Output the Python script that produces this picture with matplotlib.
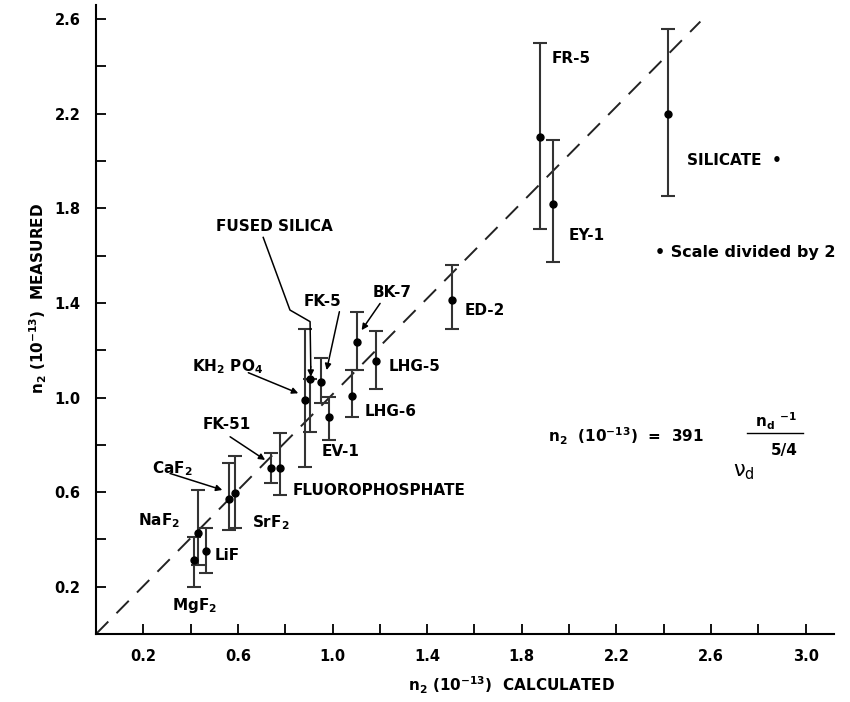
import numpy as np
import matplotlib.pyplot as plt

plt.rcParams['font.family'] = ['DejaVu Sans']
plt.rcParams['mathtext.default'] = 'regular'

# ---- data: n2 calculated vs measured (1e-13 esu) ----
names = ["MgF2", "NaF2", "LiF", "SrF2", "SrF2b", "FP1", "FP2", "KH2PO4",
         "FUSED SILICA", "FK-5", "EV-1", "LHG-6", "BK-7", "LHG-5", "ED-2",
         "FR-5", "EY-1", "SILICATE"]
calc = np.array([0.414, 0.433, 0.465, 0.564, 0.588, 0.739, 0.778, 0.882,
                 0.906, 0.950, 0.985, 1.084, 1.105, 1.183, 1.507,
                 1.877, 1.934, 2.420])
meas = np.array([0.313, 0.426, 0.352, 0.570, 0.595, 0.700, 0.700, 0.989,
                 1.080, 1.067, 0.916, 1.006, 1.236, 1.156, 1.412,
                 2.100, 1.817, 2.197])
meas_lo = np.array([0.197, 0.290, 0.259, 0.440, 0.447, 0.637, 0.588, 0.707,
                    0.855, 0.975, 0.820, 0.919, 1.116, 1.035, 1.290,
                    1.711, 1.574, 1.852])
meas_hi = np.array([0.411, 0.609, 0.447, 0.724, 0.753, 0.764, 0.849, 1.288,
                    1.080, 1.166, 1.003, 1.116, 1.363, 1.282, 1.560,
                    2.500, 2.089, 2.557])

# theory line
line_x = [0.0, 2.555]
line_y = [0.0, 2.590]

fig = plt.figure(figsize=(8.5, 7.02), dpi=100)
ax = fig.add_axes([96 / 850, 68 / 702, 738 / 850, 629 / 702])

ax.plot(line_x, line_y, color="#222222", lw=1.4, dashes=(9, 6))

yerr = np.vstack([meas - meas_lo, meas_hi - meas])
ax.errorbar(calc, meas, yerr=yerr, fmt="o", color="black", ms=5,
            ecolor="#333333", elinewidth=1.5, capsize=5, capthick=1.5)

# ---- axes ----
ax.set_xlim(0, 3.12)
ax.set_ylim(0, 2.66)
for s in ["top", "right"]:
    ax.spines[s].set_visible(False)
for s in ["left", "bottom"]:
    ax.spines[s].set_linewidth(1.5)
ax.set_xticks(np.arange(0.2, 3.01, 0.4))
ax.set_xticks(np.arange(0.4, 3.01, 0.4), minor=True)
ax.set_yticks(np.arange(0.2, 2.61, 0.4))
ax.set_yticks(np.arange(0.4, 2.61, 0.4), minor=True)
ax.set_xticklabels([f"{v:.1f}" for v in np.arange(0.2, 3.01, 0.4)])
ax.set_yticklabels([f"{v:.1f}" for v in np.arange(0.2, 2.61, 0.4)])
ax.tick_params(which="both", direction="in", length=7, width=1.3)
ax.tick_params(labelsize=10.5, pad=11)
for t in ax.get_xticklabels() + ax.get_yticklabels():
    t.set_fontweight("bold")

ax.text(1.755, -0.216, "n$_2$ (10$^{-13}$)  CALCULATED", ha="center",
        va="center", fontsize=11, fontweight="bold", clip_on=False)
ax.text(-0.245, 1.421, "n$_2$ (10$^{-13}$)  MEASURED", ha="center",
        va="center", rotation=90, fontsize=11, fontweight="bold", clip_on=False)

# ---- labels ----
lab = dict(fontsize=11, fontweight="bold", va="center", ha="left")
ax.text(1.927, 2.434, "FR-5", **lab)
ax.text(1.997, 1.687, "EY-1", **lab)
ax.text(2.498, 2.004, "SILICATE  •", **lab)
ax.text(2.364, 1.612, "• Scale divided by 2", fontsize=11.5,
        fontweight="bold", va="center", ha="left")
ax.text(0.507, 1.722, "FUSED SILICA", **lab)
ax.text(0.879, 1.405, "FK-5", **lab)
ax.text(1.171, 1.443, "BK-7", **lab)
ax.text(1.560, 1.370, "ED-2", **lab)
ax.text(1.236, 1.130, "LHG-5", **lab)
ax.text(1.137, 0.940, "LHG-6", **lab)
ax.text(0.954, 0.771, "EV-1", **lab)
ax.text(0.405, 1.130, "KH$_{2}$ PO$_{4}$", **lab)
ax.text(0.452, 0.888, "FK-51", **lab)
ax.text(0.833, 0.605, "FLUOROPHOSPHATE", **lab)
ax.text(0.236, 0.700, "CaF$_{2}$", **lab)
ax.text(0.658, 0.470, "SrF$_{2}$", **lab)
ax.text(0.179, 0.478, "NaF$_{2}$", **lab)
ax.text(0.503, 0.334, "LiF", **lab)
ax.text(0.320, 0.120, "MgF$_{2}$", **lab)

# leader lines
arrow = dict(arrowstyle="-|>", color="black", lw=1.1, mutation_scale=9,
             shrinkA=0, shrinkB=0)
ax.plot([0.707, 0.820, 0.905, 0.908], [1.677, 1.370, 1.321, 1.130],
        color="black", lw=1.1)
ax.annotate("", xy=(0.908, 1.088), xytext=(0.908, 1.130), arrowprops=arrow)
ax.annotate("", xy=(0.975, 1.116), xytext=(1.029, 1.363), arrowprops=arrow)
ax.annotate("", xy=(1.123, 1.285), xytext=(1.201, 1.398), arrowprops=arrow)
ax.annotate("", xy=(0.855, 1.018), xytext=(0.644, 1.105), arrowprops=arrow)
ax.annotate("", xy=(0.715, 0.736), xytext=(0.567, 0.834), arrowprops=arrow)
ax.annotate("", xy=(0.534, 0.609), xytext=(0.313, 0.679), arrowprops=arrow)

# ---- formula ----
ax.text(1.911, 0.835, "n$_2$  (10$^{-13}$)  =  391", fontsize=11,
        fontweight="bold", va="center", ha="left")
ax.text(2.875, 0.900, "n$_d$ $^{-1}$", fontsize=11, fontweight="bold",
        va="center", ha="center")
ax.plot([2.751, 2.991], [0.849, 0.849], color="black", lw=1.0)
ax.text(2.909, 0.775, "5/4", fontsize=11, fontweight="bold",
        va="center", ha="center")
ax.text(2.693, 0.685, r"$\nu_d$", fontsize=15, va="center", ha="left")

fig.savefig("out.png", dpi=100)
